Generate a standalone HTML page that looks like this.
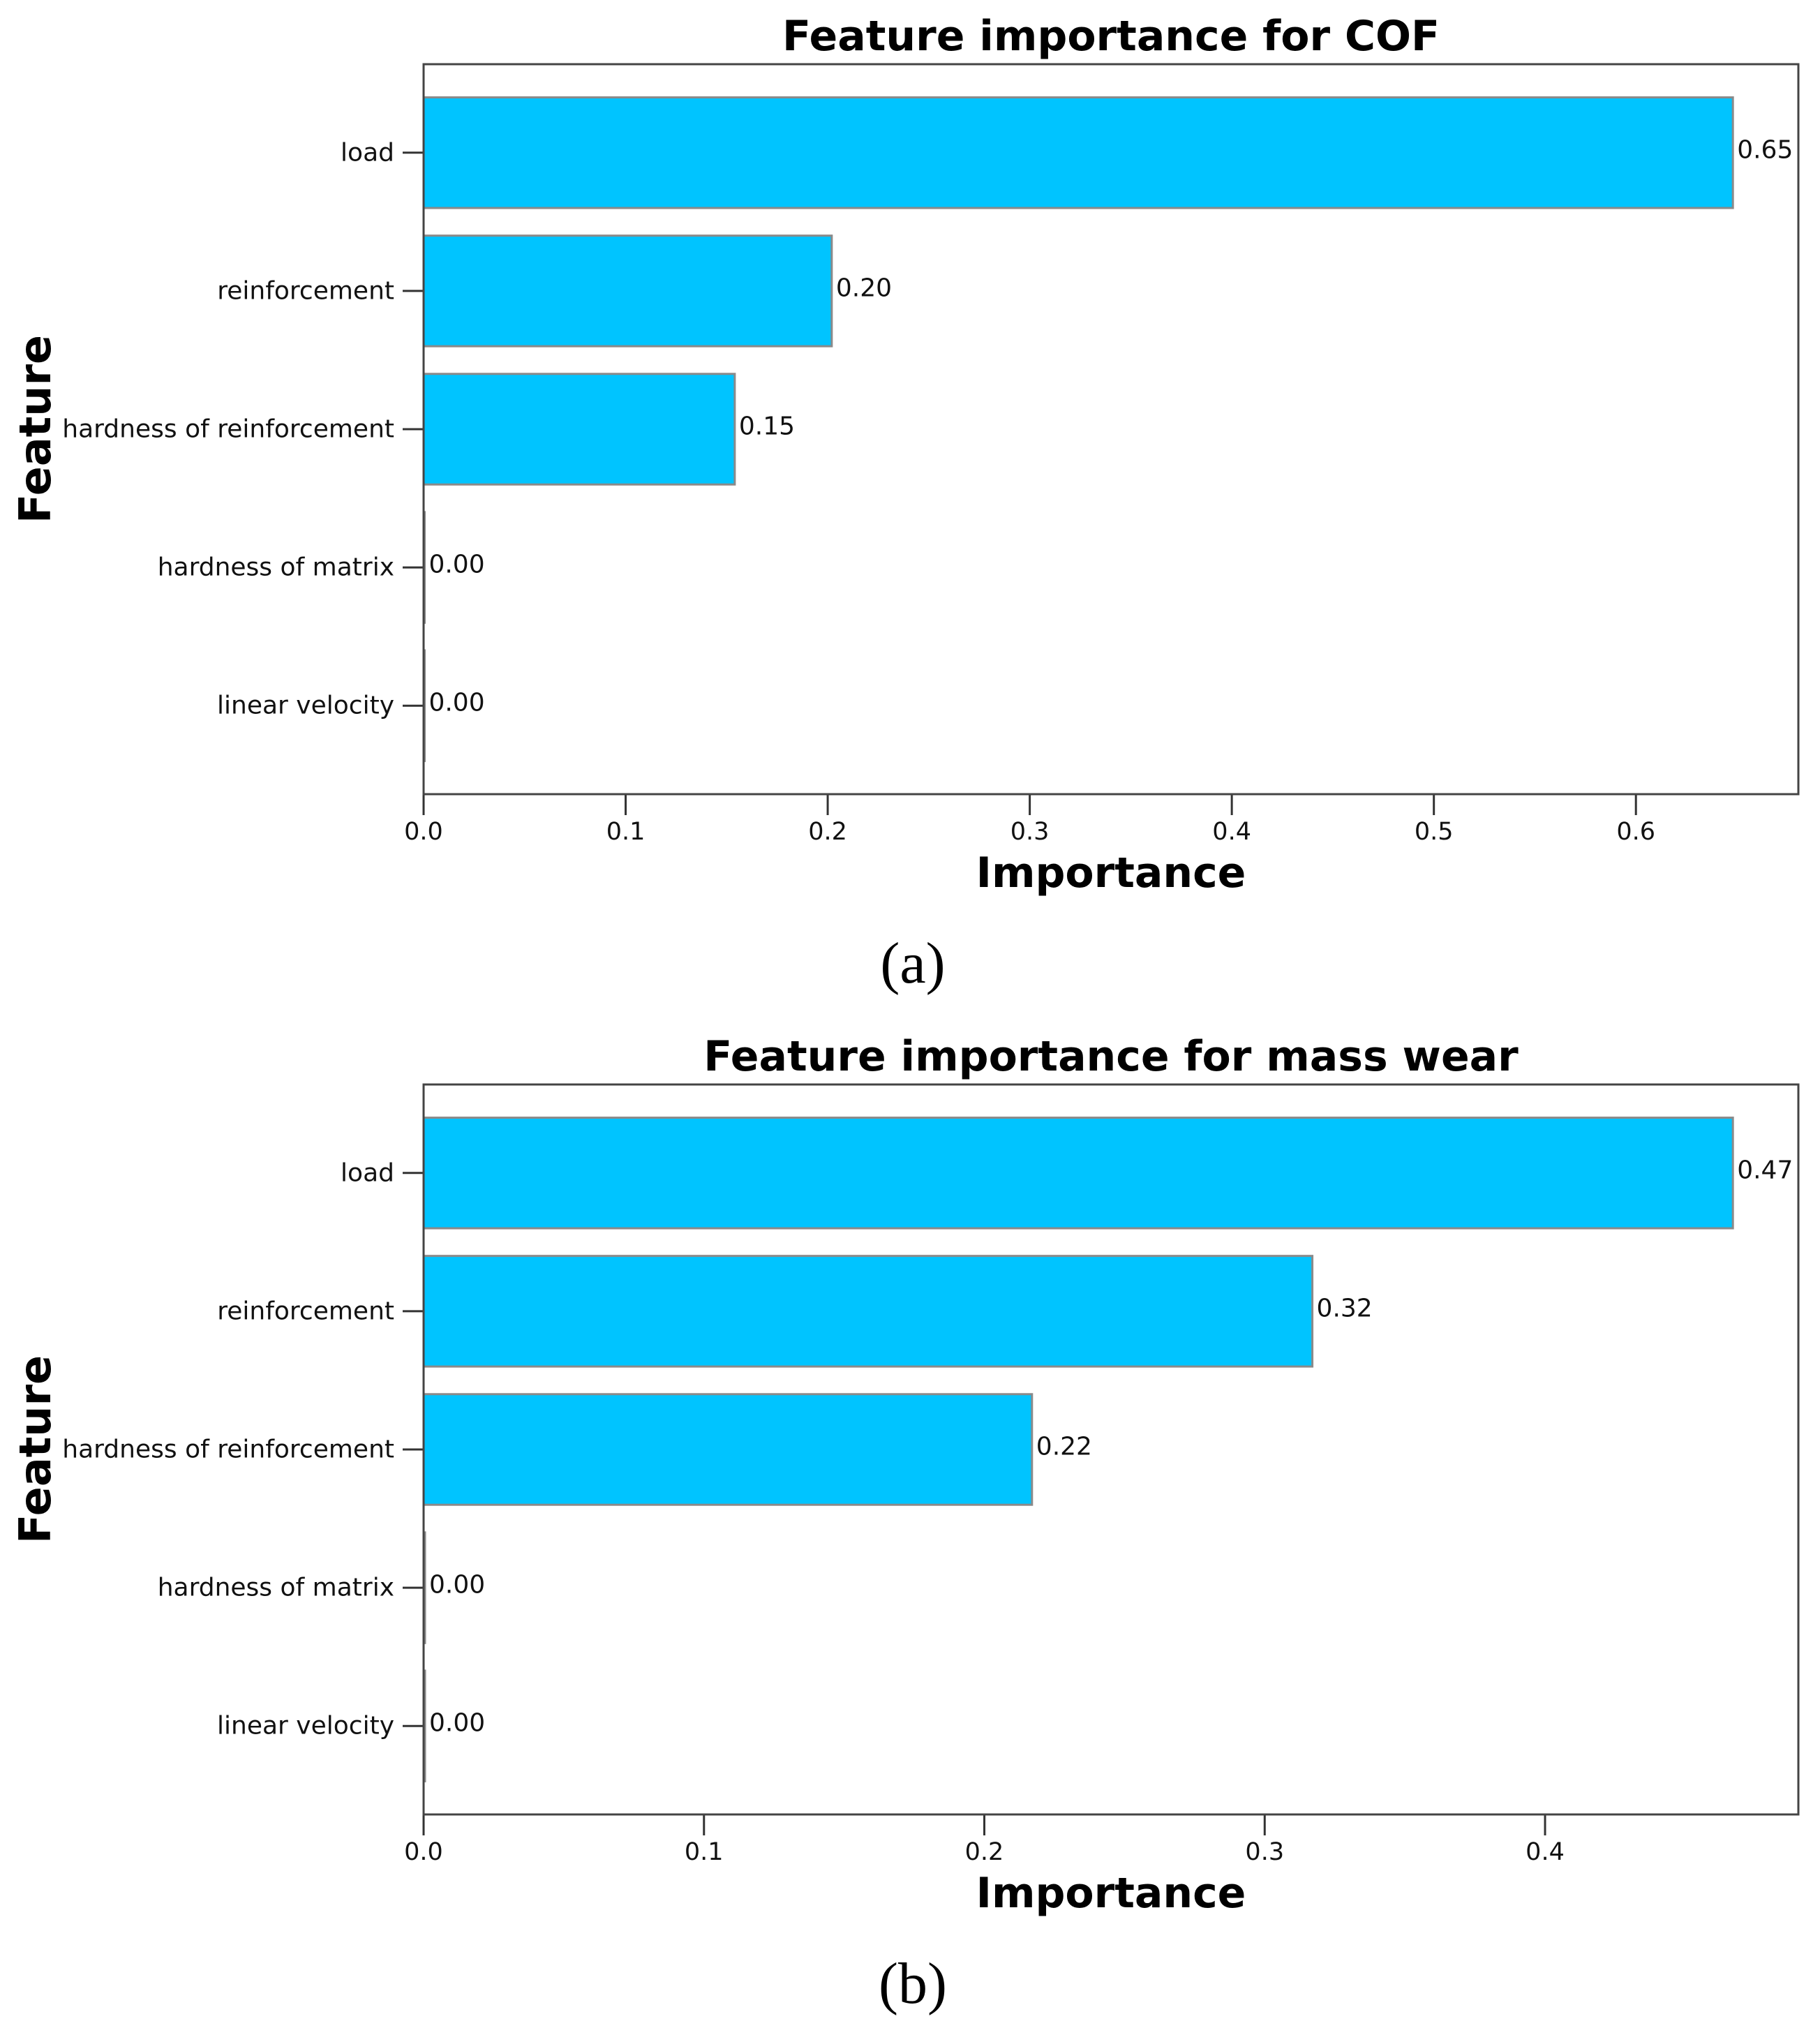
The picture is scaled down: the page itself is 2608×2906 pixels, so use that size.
<!DOCTYPE html>
<html><head><meta charset="utf-8"><style>
html,body{margin:0;padding:0;background:#fff}
svg{display:block}
</style></head><body>
<svg id="chart" width="2608" height="2906" xmlns="http://www.w3.org/2000/svg" font-family="'DejaVu Sans','Liberation Sans',sans-serif"></svg>
<script>
const categories = ["load","reinforcement","hardness of reinforcement","hardness of matrix","linear velocity"];
const cofValues = [0.648,0.202,0.154,0.0005,0.0005];
const cofLabels = ["0.65","0.20","0.15","0.00","0.00"];
const cofTicks = [0,0.1,0.2,0.3,0.4,0.5,0.6];
const wearValues = [0.467,0.317,0.217,0.0005,0.0005];
const wearLabels = ["0.47","0.32","0.22","0.00","0.00"];
const wearTicks = [0,0.1,0.2,0.3,0.4];

const NS="http://www.w3.org/2000/svg";
const svg=document.getElementById('chart');
function mk(tag,attrs,parent,text){const e=document.createElementNS(NS,tag);for(const k in attrs)e.setAttribute(k,attrs[k]);if(text!==undefined)e.textContent=text;parent.appendChild(e);return e;}

function panel(id,top,values,labels,ticks,title,caption,captionY){
  const L=607,R=2577,T=top,B=top+1046;
  const xmax=Math.max(...values)*1.05;
  const x=v=>L+(v/xmax)*(R-L);
  const n=categories.length;
  const ymin=-0.5-0.14, ymax=n-1+0.5+0.14;
  const y=i=>T+((i-ymin)/(ymax-ymin))*(B-T);
  const bh=0.8*(B-T)/(ymax-ymin);
  const g=mk('g',{},svg);
  
  
  const t=mk('text',{x:(L+R)/2,y:T-20,'text-anchor':'middle','font-size':60,'font-weight':'bold'},g,title);
  
  
  values.forEach((v,i)=>{
    const r=mk('rect',{x:L,y:y(i)-bh/2,width:Math.max(x(v)-L,1.5),height:bh,fill:'#00c4ff',stroke:'#8a8a8a','stroke-width':3},g);
    
    
    const vl=mk('text',{x:x(v)+6,y:y(i)-4,'dominant-baseline':'central','font-size':36,fill:'#111'},g,labels[i]);
    
    
    const tk=mk('line',{x1:L-30,x2:L,y1:y(i),y2:y(i),stroke:'#333','stroke-width':3},g);
    
    
    const cl=mk('text',{x:L-42,y:y(i),'text-anchor':'end','dominant-baseline':'central','font-size':36,fill:'#111'},g,categories[i]);
    
    
  });
  ticks.forEach((tv,i)=>{
    const tk=mk('line',{x1:x(tv),x2:x(tv),y1:B,y2:B+30,stroke:'#333','stroke-width':3},g);
    
    
    const tl=mk('text',{x:x(tv),y:B+65,'text-anchor':'middle','font-size':35,fill:'#111'},g,tv.toFixed(1));
    
    
  });
  const fr=mk('rect',{x:L,y:T,width:R-L,height:B-T,fill:'none',stroke:'#444','stroke-width':3},g);
  
  
  const xt=mk('text',{x:(L+R)/2,y:B+133,'text-anchor':'middle','font-size':60,'font-weight':'bold'},g,'Importance');
  
  
  const cy=(T+B)/2;
  const yt=mk('text',{x:0,y:0,transform:'translate(72,'+cy+') rotate(-90)','text-anchor':'middle','font-size':62,'font-weight':'bold'},g,'Feature');
  
  
  const cp=mk('text',{x:1308,y:captionY,'text-anchor':'middle','font-size':84,'font-family':"'Liberation Serif',serif"},g,caption);
  
  
}
panel('cof',92,cofValues,cofLabels,cofTicks,'Feature importance for COF','(a)',1408);
panel('wear',1554,wearValues,wearLabels,wearTicks,'Feature importance for mass wear','(b)',2870);
</script>
</body></html>
